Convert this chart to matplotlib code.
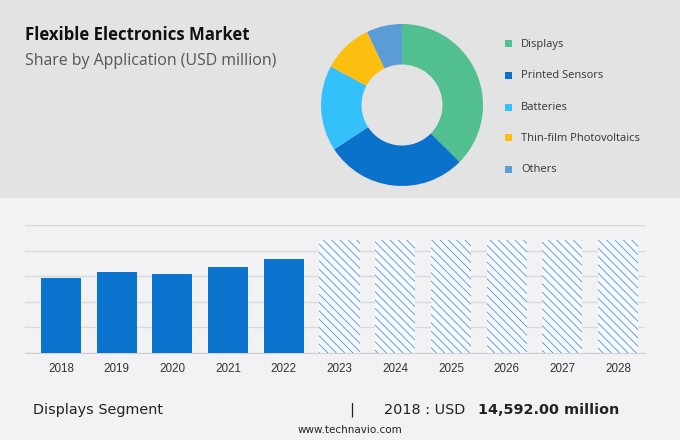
import matplotlib
matplotlib.use("Agg")
import matplotlib.pyplot as plt
from matplotlib.patches import Rectangle

# data
segments = ["Displays", "Printed Sensors", "Batteries", "Thin-film Photovoltaics", "Others"]
shares = [37.4, 28.4, 17.1, 10.0, 7.1]
seg_colors = ["#52bf90", "#0b72cc", "#33c0fb", "#fdbf0f", "#5b9bd6"]

years = ["2018", "2019", "2020", "2021", "2022", "2023", "2024", "2025", "2026", "2027", "2028"]
values = [14592, 15880, 15430, 16800, 18420]   # actuals, USD million
forecast_height = 22100                          # placeholder height of hidden forecast bars

plt.rcParams["hatch.linewidth"] = 0.6

W, H = 680, 440
fig = plt.figure(figsize=(W / 100, H / 100), dpi=100, facecolor="#f2f2f4")

# grey header band
fig.add_artist(Rectangle((0, 1 - 198 / H), 1, 198 / H, transform=fig.transFigure,
                         facecolor="#e3e3e3", edgecolor="none", zorder=0))

fig.text(25 / W, 1 - 35 / H, "Flexible Electronics Market", fontsize=12.1, fontweight="bold",
         color="#111111", va="center", ha="left", family="Open Sans")
fig.text(25 / W, 1 - 61 / H, "Share by Application (USD million)", fontsize=11.4,
         color="#555555", va="center", ha="left", family="Open Sans")

# donut
cx, cy, r = 402, 105, 81
pad = 1.1
ax_pie = fig.add_axes([(cx - r * pad) / W, 1 - (cy + r * pad) / H, 2 * r * pad / W, 2 * r * pad / H])
ax_pie.pie(shares, colors=seg_colors, startangle=90, counterclock=False,
           wedgeprops=dict(width=0.5, edgecolor="none"))
ax_pie.set_xlim(-pad, pad)
ax_pie.set_ylim(-pad, pad)
ax_pie.set_aspect("equal")
ax_pie.axis("off")

# legend
leg_y = [44, 75.5, 107, 138, 169]
for name, col, y in zip(segments, seg_colors, leg_y):
    fig.add_artist(Rectangle((505 / W, 1 - (y + 3.5) / H), 7 / W, 7 / H, transform=fig.transFigure,
                             facecolor=col, edgecolor="none"))
    fig.text(521 / W, 1 - y / H, name, fontsize=8, color="#333333", va="center", ha="left",
             family="Open Sans")

# bar chart
ax = fig.add_axes([25 / W, 1 - 353 / H, 620 / W, 128 / H])
ax.set_facecolor("none")
x = list(range(len(years)))
ax.bar(x[:len(values)], values, width=0.72, color="#0a74cf", zorder=3)
ax.bar(x[len(values):], [forecast_height] * (len(years) - len(values)), width=0.72,
       color="#f6f9fc", edgecolor="#4f94d4", linewidth=0, hatch="\\\\\\\\", zorder=3)
ax.set_xlim(-0.646, 10.485)
ax.set_ylim(0, 25000)
ax.set_yticks(range(0, 25001, 5000))
ax.yaxis.grid(True, color="#d9d9dc", linewidth=1)
ax.set_axisbelow(True)
ax.tick_params(axis="y", left=False, labelleft=False)
ax.tick_params(axis="x", length=0, pad=7, labelsize=8.4, labelcolor="#333333")
ax.set_xticks(x)
ax.set_xticklabels(years, family="Liberation Sans")
for s in ax.spines.values():
    s.set_visible(False)
ax.spines["bottom"].set_visible(True)
ax.spines["bottom"].set_color("#cfcfd2")

# footer
foot = "DejaVu Sans"
fig.text(33 / W, 1 - 410 / H, "Displays Segment", fontsize=10.4, color="#222222", va="center",
         ha="left", family=foot)
fig.text(352 / W, 1 - 410 / H, "|", fontsize=10.4, color="#222222", va="center", ha="center", family=foot)
fig.text(384 / W, 1 - 410 / H, "2018 : USD", fontsize=10.4, color="#222222", va="center", ha="left",
         family=foot)
fig.text(619 / W, 1 - 410 / H, "14,592.00 million", fontsize=10.4, fontweight="bold", color="#222222",
         va="center", ha="right", family=foot)
fig.text(350 / W, 1 - 430 / H, "www.technavio.com", fontsize=7.5, color="#222222", va="center",
         ha="center", family=foot)

fig.savefig("out.png", dpi=100, facecolor=fig.get_facecolor())
